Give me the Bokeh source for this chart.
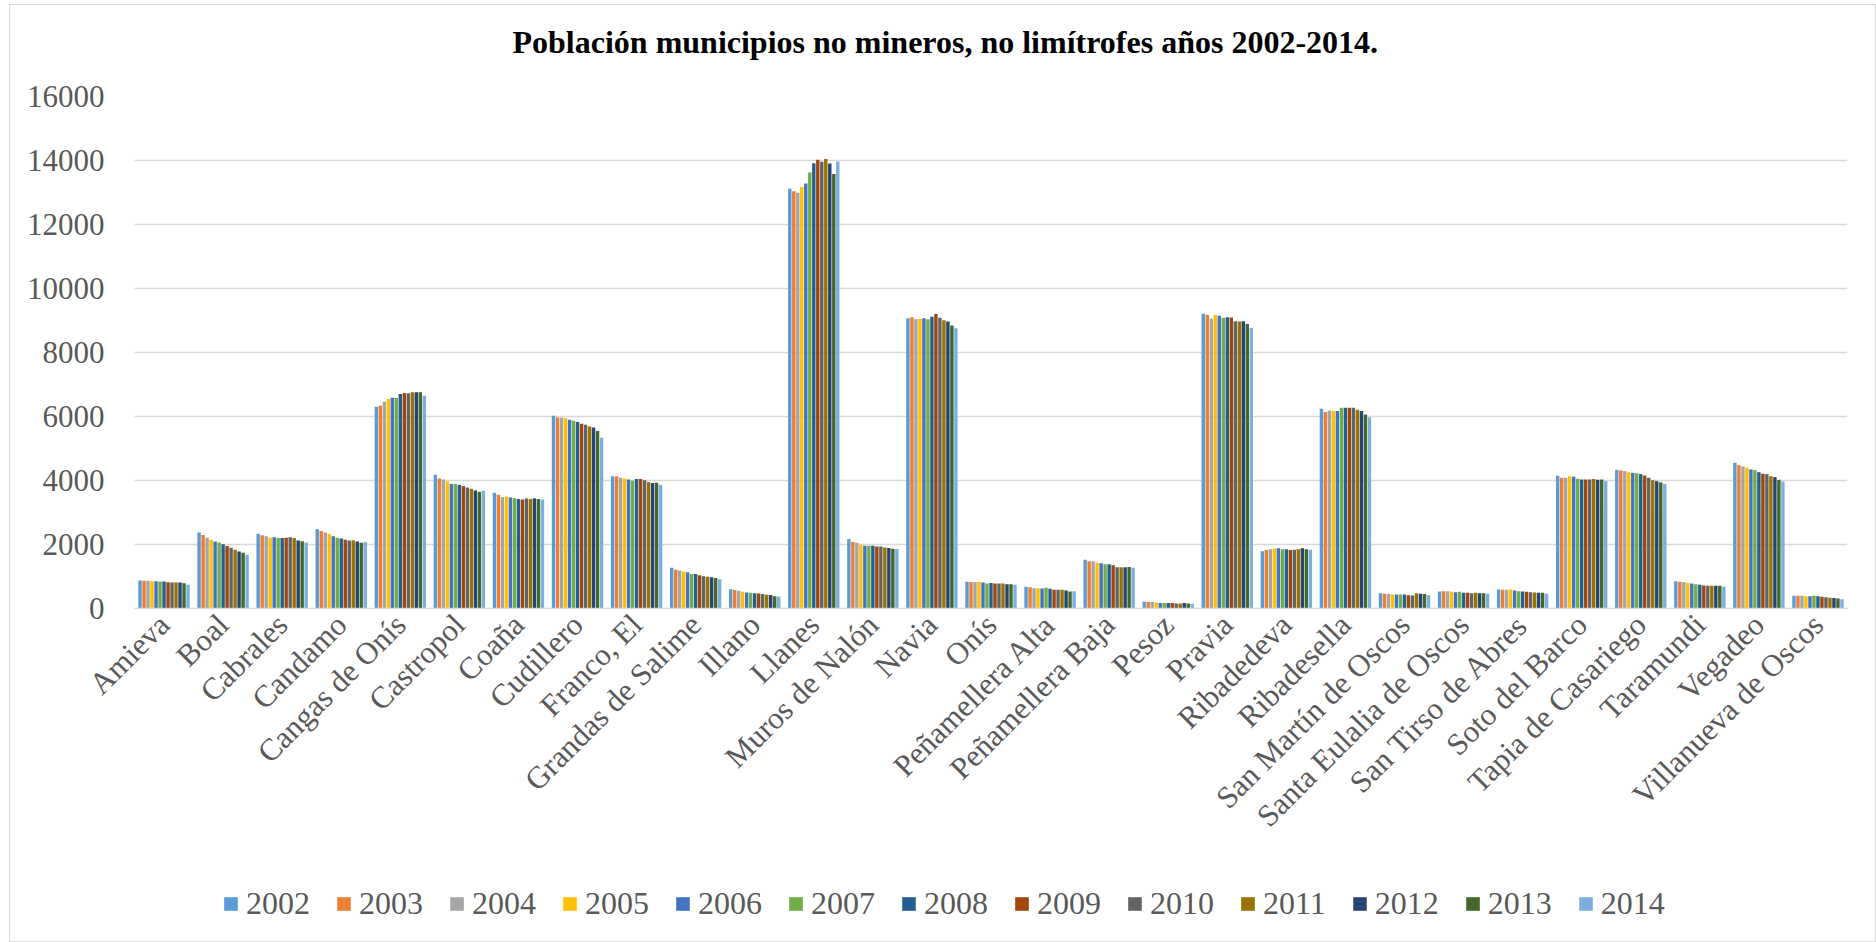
import math
from bokeh.plotting import figure
from bokeh.layouts import column
from bokeh.models import (ColumnDataSource, FactorRange, Range1d, FixedTicker,
                          Legend, LegendItem, Label)
from bokeh.transform import dodge
from bokeh.embed import file_html
from bokeh.resources import INLINE

municipios = ["Amieva", "Boal", "Cabrales", "Candamo", "Cangas de Onís", "Castropol",
              "Coaña", "Cudillero", "Franco, El", "Grandas de Salime", "Illano", "Llanes",
              "Muros de Nalón", "Navia", "Onís", "Peñamellera Alta", "Peñamellera Baja",
              "Pesoz", "Pravia", "Ribadedeva", "Ribadesella", "San Martín de Oscos",
              "Santa Eulalia de Oscos", "San Tirso de Abres", "Soto del Barco",
              "Tapia de Casariego", "Taramundi", "Vegadeo", "Villanueva de Oscos"]

years = ["2002", "2003", "2004", "2005", "2006", "2007", "2008",
         "2009", "2010", "2011", "2012", "2013", "2014"]

colors = ["#5B9BD5", "#ED7D31", "#A5A5A5", "#FFC000", "#4472C4", "#70AD47", "#255E91",
          "#9E480E", "#636363", "#997300", "#264478", "#43682B", "#7CAFDD"]

y2002 = [875, 2375, 2335, 2480, 6305, 4180, 3615, 6020, 4135, 1270, 605, 13120, 2170, 9070, 835, 680, 1520, 210, 9210, 1790, 6240, 480, 530, 595, 4145, 4335, 855, 4555, 395]
y2003 = [870, 2300, 2290, 2420, 6335, 4065, 3555, 5970, 4135, 1210, 575, 13040, 2080, 9105, 825, 665, 1480, 200, 9180, 1825, 6140, 460, 540, 585, 4085, 4315, 835, 4480, 395]
y2004 = [865, 2210, 2260, 2375, 6460, 4030, 3480, 5970, 4085, 1190, 555, 12990, 2055, 9040, 825, 635, 1480, 200, 9055, 1855, 6190, 450, 540, 585, 4085, 4295, 825, 4440, 395]
y2005 = [855, 2150, 2210, 2325, 6545, 3970, 3500, 5950, 4065, 1155, 520, 13175, 1995, 9050, 825, 635, 1430, 190, 9170, 1875, 6170, 440, 520, 595, 4135, 4260, 800, 4405, 385]
y2006 = [850, 2095, 2230, 2260, 6585, 3895, 3470, 5900, 4030, 1135, 500, 13280, 1960, 9070, 815, 625, 1415, 170, 9150, 1885, 6170, 440, 510, 565, 4115, 4240, 780, 4345, 385]
y2007 = [845, 2060, 2200, 2210, 6575, 3895, 3450, 5865, 3990, 1075, 490, 13625, 1960, 9040, 785, 645, 1385, 170, 9085, 1855, 6270, 440, 520, 540, 4055, 4230, 760, 4325, 395]
y2008 = [840, 2010, 2200, 2190, 6700, 3865, 3420, 5825, 4045, 1075, 480, 13915, 1960, 9115, 795, 615, 1385, 170, 9105, 1855, 6270, 440, 490, 530, 4030, 4200, 740, 4260, 385]
y2009 = [820, 1950, 2210, 2145, 6730, 3825, 3405, 5770, 4045, 1040, 470, 14020, 1940, 9200, 785, 585, 1355, 170, 9095, 1825, 6270, 415, 490, 520, 4030, 4155, 720, 4210, 365]
y2010 = [815, 1895, 2230, 2125, 6730, 3780, 3440, 5740, 4010, 1010, 450, 13960, 1940, 9085, 785, 585, 1290, 160, 8980, 1835, 6270, 405, 480, 510, 4030, 4085, 710, 4200, 355]
y2011 = [815, 1835, 2200, 2135, 6760, 3740, 3420, 5690, 3950, 990, 430, 14050, 1910, 9010, 785, 585, 1290, 160, 8970, 1855, 6210, 480, 490, 500, 4045, 4010, 710, 4135, 335]
y2012 = [815, 1780, 2125, 2095, 6760, 3690, 3440, 5660, 3920, 980, 420, 13905, 1890, 8970, 760, 565, 1290, 170, 8980, 1885, 6170, 460, 480, 490, 4020, 3980, 710, 4105, 325]
y2013 = [790, 1740, 2105, 2055, 6760, 3645, 3420, 5545, 3930, 950, 385, 13580, 1870, 8840, 760, 530, 1300, 160, 8890, 1855, 6065, 450, 480, 490, 4030, 3940, 710, 4020, 315]
y2014 = [740, 1680, 2065, 2075, 6650, 3680, 3405, 5335, 3865, 915, 375, 13970, 1860, 8760, 740, 540, 1270, 150, 8765, 1835, 5980, 415, 460, 460, 3980, 3895, 680, 3970, 290]

series = [y2002, y2003, y2004, y2005, y2006, y2007, y2008,
          y2009, y2010, y2011, y2012, y2013, y2014]

title_text = "Población municipios no mineros, no limítrofes años 2002-2014."

data = {"mun": municipios}
for yr, vals in zip(years, series):
    data[yr] = vals
source = ColumnDataSource(data)

SERIF = "Liberation Serif"
W = 1865
H_TOP = 71
H_MAIN = 802
H_LEG = 63


def blank(height):
    f = figure(width=W, height=height, x_range=Range1d(0, 1), y_range=Range1d(0, 1),
               output_backend="svg", toolbar_location=None,
               min_border=0, x_axis_type=None, y_axis_type=None)
    f.grid.visible = False
    f.outline_line_color = None
    f.background_fill_color = "white"
    f.border_fill_color = "white"
    return f


# --- title strip (screen units, relative to the aligned plot frame)
p_top = blank(H_TOP)
p_top.add_layout(Label(x=378, y=35, x_units="screen", y_units="screen",
                       text=title_text, text_font=SERIF,
                       text_font_style="bold", text_font_size="32px",
                       text_color="#000000", text_baseline="middle", text_align="left"))

# --- main chart
p = figure(x_range=FactorRange(factors=municipios, range_padding=0),
           y_range=Range1d(0, 16000),
           width=W, height=H_MAIN,
           output_backend="svg", toolbar_location=None,
           min_border_left=124, min_border_right=28,
           min_border_top=20, min_border_bottom=270)

slot = 0.0677
n = len(years)
for j, yr in enumerate(years):
    off = (j - (n - 1) / 2) * slot
    p.vbar(x=dodge("mun", off, range=p.x_range), top=yr, width=0.058,
           source=source, fill_color=colors[j], line_color=None)

p.outline_line_color = None
p.background_fill_color = "white"
p.border_fill_color = "white"

p.xgrid.grid_line_color = None
p.ygrid.grid_line_color = "#D9D9D9"
p.ygrid.grid_line_width = 1.5
p.yaxis.ticker = FixedTicker(ticks=list(range(0, 16001, 2000)))

p.yaxis.axis_line_color = None
p.yaxis.major_tick_line_color = None
p.yaxis.minor_tick_line_color = None
p.yaxis.major_label_text_font = SERIF
p.yaxis.major_label_text_font_size = "31px"
p.yaxis.major_label_text_color = "#595959"
p.yaxis.major_label_standoff = 24

p.xaxis.axis_line_color = "#D9D9D9"
p.xaxis.axis_line_width = 1.5
p.xaxis.major_tick_line_color = None
p.xaxis.minor_tick_line_color = None
p.xaxis.major_label_orientation = math.pi / 4
p.xaxis.major_label_text_font = SERIF
p.xaxis.major_label_text_font_size = "31px"
p.xaxis.major_label_text_color = "#595959"
p.xaxis.major_label_standoff = 5

# --- legend strip (proxy glyphs placed outside the visible range)
p_leg = blank(H_LEG)
proxies = []
for j, yr in enumerate(years):
    r = p_leg.rect(x=[-10], y=[-10], width=0.01, height=0.01,
                   fill_color=colors[j], line_color=None)
    proxies.append(r)
legend = Legend(items=[LegendItem(label=yr, renderers=[r]) for yr, r in zip(years, proxies)],
                orientation="horizontal", location=(88, 19),
                glyph_width=17, glyph_height=17, label_standoff=7, spacing=25,
                padding=0, margin=0, border_line_color=None,
                background_fill_alpha=0,
                label_text_font=SERIF, label_text_font_size="32px",
                label_text_color="#595959")
p_leg.add_layout(legend, "center")

layout = column(p_top, p, p_leg, spacing=0,
                styles={"border": "1px solid #D9D9D9", "margin-left": "9px", "margin-top": "4px"})

open("out.html", "w").write(file_html(layout, INLINE))
